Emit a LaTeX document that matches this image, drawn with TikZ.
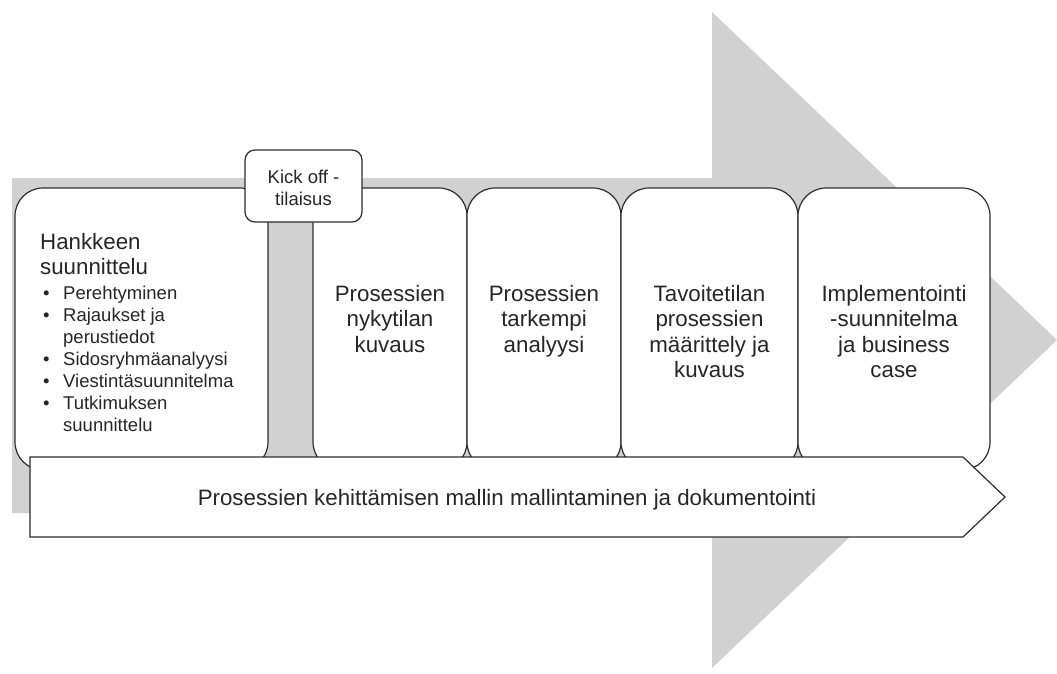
\documentclass[tikz,border=0pt]{standalone}
\usepackage{fontspec}
\setmainfont{Liberation Sans}
\usetikzlibrary{positioning}

\definecolor{arrowgray}{RGB}{209,209,209}
\definecolor{inkgray}{RGB}{38,38,38}
\definecolor{edgegray}{RGB}{45,45,45}

\newcommand\stagebullet{\makebox[23pt][l]{\hspace{3pt}\textbullet}}

\tikzset{
  stagebox/.style={draw=edgegray, fill=white, line width=1.2pt, rounded corners=28pt,
                   inner sep=0pt, outer sep=0pt},
  kickbox/.style={draw=edgegray, fill=white, line width=1.2pt, rounded corners=10pt,
                  inner sep=0pt, outer sep=0pt, minimum width=117pt, minimum height=72pt},
  bigtext/.style={text=inkgray, align=center, inner sep=0pt,
                  font=\fontsize{22.3}{25.5}\selectfont},
  smalltext/.style={text=inkgray, align=left, inner sep=0pt,
                    font=\fontsize{18.5}{22}\selectfont},
}

\begin{document}
\begin{tikzpicture}[x=1pt,y=-1pt]
\useasboundingbox (0,0) rectangle (1057,673);

% large background arrow
\fill[arrowgray] (12,178) -- (712,178) -- (712,12) -- (1057,340)
                 -- (712,668) -- (712,513) -- (12,513) -- cycle;

% stage boxes
\node[stagebox, minimum width=253pt, minimum height=282pt] (plan)    at (141.5,329) {};
\node[stagebox, minimum width=154pt, minimum height=282pt] (current) at (390,329) {};
\node[stagebox, minimum width=154pt, minimum height=282pt] (analysis) at (544,329) {};
\node[stagebox, minimum width=177pt, minimum height=282pt] (target)  at (709.5,329) {};
\node[stagebox, minimum width=192pt, minimum height=282pt] (impl)    at (894,329) {};

% kick-off milestone (base anchor sits on the last line)
\node[kickbox] (kickoff) at (303.5,186) {};
\node[smalltext, align=center, anchor=base] (kicklabel) at (303.5,205)
  {Kick off -\\tilaisus};

% planning box contents
\node[bigtext, align=left, anchor=base west] (plantitle) at (40,274.5)
  {Hankkeen\\suunnittelu};
\node[smalltext, anchor=base west] (plantasks) at (40,431)
  {\stagebullet Perehtyminen\\
   \stagebullet Rajaukset ja\\
   \hspace*{23pt}perustiedot\\
   \stagebullet Sidosryhmäanalyysi\\
   \stagebullet Viestintäsuunnitelma\\
   \stagebullet Tutkimuksen\\
   \hspace*{23pt}suunnittelu};

% stage labels
\node[bigtext, anchor=base] (currentlabel)  at (current.center |- 0,352)
  {Prosessien\\nykytilan\\kuvaus};
\node[bigtext, anchor=base] (analysislabel) at (analysis.center |- 0,352)
  {Prosessien\\tarkempi\\analyysi};
\node[bigtext, anchor=base] (targetlabel)   at (target.center |- 0,377.5)
  {Tavoitetilan\\prosessien\\määrittely ja\\kuvaus};
\node[bigtext, anchor=base] (impllabel)     at (impl.center |- 0,377.5)
  {Implementointi\\-suunnitelma\\ja business\\case};

% documentation banner
\draw[draw=edgegray, fill=white, line width=1.2pt, line join=miter]
  (30,457) -- (963,457) -- (1005,497) -- (963,537) -- (30,537) -- cycle;
\node[bigtext, anchor=base] (bannerlabel) at (507,505)
  {Prosessien kehittämisen mallin mallintaminen ja dokumentointi};

\end{tikzpicture}
\end{document}
